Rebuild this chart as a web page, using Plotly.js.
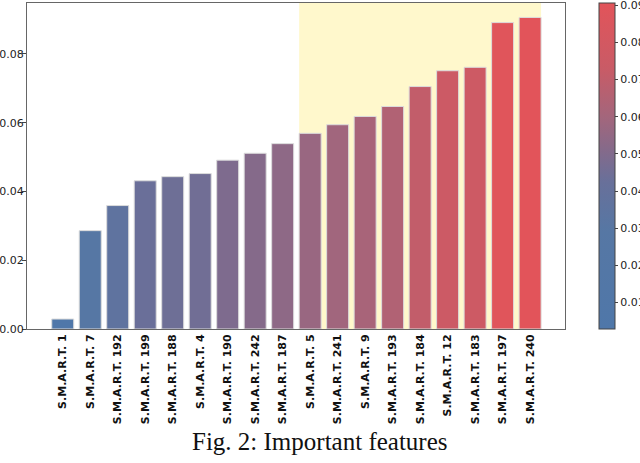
<!DOCTYPE html>
<html>
<head>
<meta charset="utf-8">
<script src="https://cdn.plot.ly/plotly-3.0.1.min.js"></script>
<style>
  html, body { margin: 0; padding: 0; background: #fff; }
  #plot { width: 640px; height: 463px; }
</style>
</head>
<body>
<div id="plot"></div>
<script>
// feature names (sorted by importance)
const features = ['S.M.A.R.T. 1', 'S.M.A.R.T. 7', 'S.M.A.R.T. 192', 'S.M.A.R.T. 199',
  'S.M.A.R.T. 188', 'S.M.A.R.T. 4', 'S.M.A.R.T. 190', 'S.M.A.R.T. 242', 'S.M.A.R.T. 187',
  'S.M.A.R.T. 5', 'S.M.A.R.T. 241', 'S.M.A.R.T. 9', 'S.M.A.R.T. 193', 'S.M.A.R.T. 184',
  'S.M.A.R.T. 12', 'S.M.A.R.T. 183', 'S.M.A.R.T. 197', 'S.M.A.R.T. 240'];
const importance = [0.0029, 0.0286, 0.0359, 0.0431, 0.0443, 0.0452, 0.0491, 0.0511, 0.0539,
  0.0569, 0.0594, 0.0618, 0.0647, 0.0705, 0.0751, 0.0761, 0.0891, 0.0906];

// highlighted block: S.M.A.R.T. 5 .. S.M.A.R.T. 240
const highlightFrom = 9;
const highlightTo = 17;

const yTicks = [0, 0.02, 0.04, 0.06, 0.08];
const cbTicks = [0.01, 0.02, 0.03, 0.04, 0.05, 0.06, 0.07, 0.08, 0.09];

const idx = features.map((f, i) => i);
const vmin = Math.min(...importance);
const vmax = Math.max(...importance);

// blue -> purple -> red
const cmap = [[0, '#4f77a9'], [0.3, '#5677a4'], [0.45, '#68709a'], [0.55, '#856a8a'],
  [0.65, '#a3667c'], [0.8, '#c95b66'], [1, '#e2545a']];

const barTrace = {
  type: 'bar',
  x: idx,
  y: importance,
  width: 0.8,
  marker: {
    color: importance,
    cmin: vmin,
    cmax: vmax,
    colorscale: cmap,
    line: { color: '#dcdcdc', width: 1 },
    showscale: true,
    colorbar: {
      xref: 'container',
      x: 599 / 640, xanchor: 'left',
      yref: 'paper',
      y: 0, yanchor: 'bottom',
      len: 1, lenmode: 'fraction',
      thickness: 16, thicknessmode: 'pixels',
      xpad: 0, ypad: 0,
      outlinecolor: '#444', outlinewidth: 1,
      tickvals: cbTicks,
      tickformat: '.2f',
      ticks: 'outside', ticklen: 3, tickcolor: '#444',
      ticklabeloverflow: 'allow',
      tickfont: { family: 'DejaVu Sans', size: 11, color: '#222' }
    }
  },
  hoverinfo: 'x+y'
};

const layout = {
  width: 640,
  height: 463,
  margin: { l: 27, r: 75, t: 3, b: 134 },
  paper_bgcolor: '#fff',
  plot_bgcolor: '#fff',
  showlegend: false,
  xaxis: {
    range: [-1.3, 18.27],
    tickvals: idx,
    ticktext: features,
    tickangle: -90,
    ticks: '',
    showgrid: false,
    zeroline: false,
    showline: true, mirror: true,
    linecolor: '#666', linewidth: 1,
    tickfont: { family: 'DejaVu Sans', size: 11, color: '#111', weight: 'bold' }
  },
  yaxis: {
    range: [0, 0.0948],
    tickvals: yTicks,
    tickformat: '.2f',
    ticks: 'outside', ticklen: 4, tickcolor: '#444',
    ticklabelstandoff: -4,
    showgrid: false,
    zeroline: false,
    showline: true, mirror: true,
    linecolor: '#666', linewidth: 1,
    tickfont: { family: 'DejaVu Sans', size: 11, color: '#222' }
  },
  shapes: [{
    type: 'rect',
    xref: 'x', yref: 'paper',
    x0: highlightFrom - 0.4, x1: highlightTo + 0.4,
    y0: 0, y1: 1,
    fillcolor: '#fff8cc',
    line: { width: 0 },
    layer: 'below'
  }],
  annotations: [{
    text: 'Fig. 2: Important features',
    xref: 'paper', yref: 'paper',
    x: (320 - 27) / 538, y: (329 - 441) / 326,
    xanchor: 'center', yanchor: 'middle',
    showarrow: false,
    font: { family: 'Liberation Serif', size: 25, color: '#111' }
  }]
};

Plotly.newPlot('plot', [barTrace], layout, { displayModeBar: false, staticPlot: true });
</script>
</body>
</html>
